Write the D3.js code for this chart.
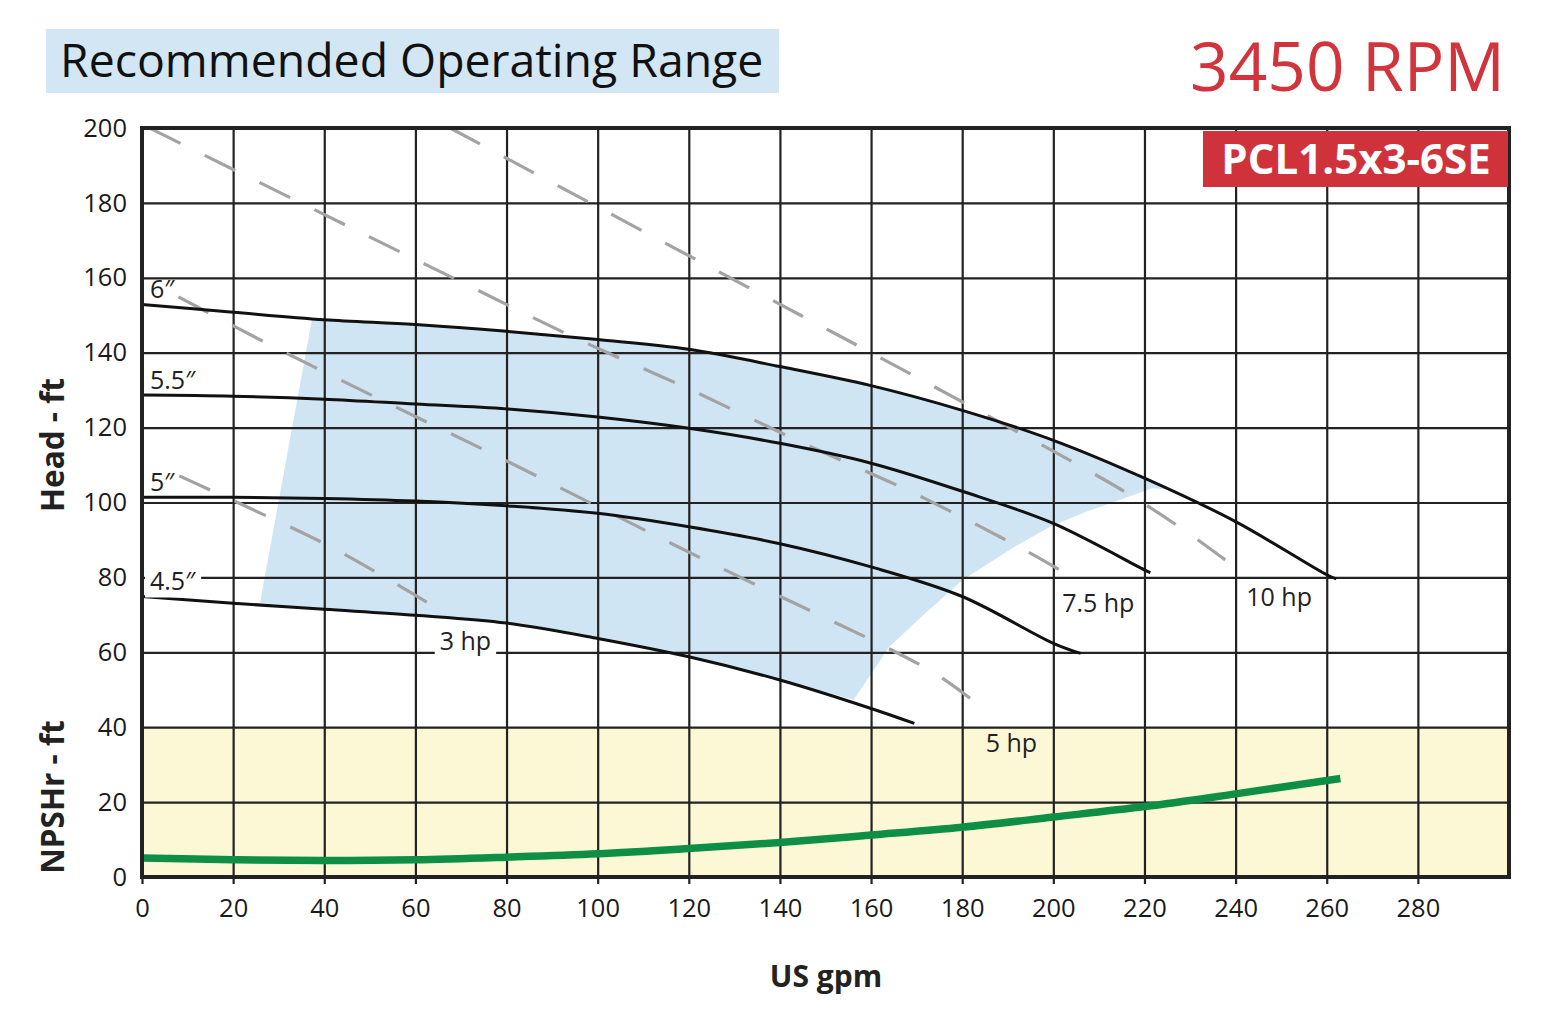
<!DOCTYPE html>
<html>
<head>
<meta charset="utf-8">
<script src="https://cdn.jsdelivr.net/npm/d3@7"></script>
<style>
  body { margin: 0; background: #fff; }
  text { font-family: "Open Sans", sans-serif; }
</style>
</head>
<body>
<script>
// pump curve chart, 3450 rpm

var gpmTicks = [0, 20, 40, 60, 80, 100, 120, 140, 160, 180, 200, 220, 240, 260, 280];
var headTicks = [0, 20, 40, 60, 80, 100, 120, 140, 160, 180, 200];

// head curves per impeller diameter, [gpm, ft]
var curve6 = [[0, 152.9], [20, 150.8], [40, 148.8], [60, 147.5], [80, 145.7], [100, 143.5], [120, 140.9],
  [140, 136.3], [160, 131.2], [180, 124.6], [200, 116.6], [220, 106.5], [240, 94.9], [260, 80.7], [262.1, 79.6]];
var curve55 = [[0, 128.7], [20, 128.4], [40, 127.6], [60, 126.3], [80, 125], [100, 122.8], [120, 119.8],
  [140, 115.8], [160, 110.5], [180, 103], [200, 94.4], [220, 82], [221.3, 81.3]];
var curve5 = [[0, 101.4], [20, 101.4], [40, 101.1], [60, 100.4], [80, 99.1], [100, 97.1], [120, 93.5],
  [140, 89.0], [160, 82.8], [180, 74.9], [200, 62.4], [206, 59.7]];
var curve45 = [[0, 74.9], [20, 73.1], [40, 71.5], [60, 69.9], [80, 67.8], [100, 63.7], [120, 58.8],
  [140, 52.6], [160, 45.0], [169.5, 41.0]];
var impellers = ["6\u2033", "5.5\u2033", "5\u2033", "4.5\u2033"];

// motor power limits
var hp3 = [[8.2, 107.1], [27.7, 96.2], [40.2, 88.9], [52.1, 80.9], [63.8, 72.4]];
var hp5 = [[8, 154.9], [26.8, 142.9], [51.3, 128.1], [76.2, 113.4], [100.7, 98.5], [125.4, 83.5],
  [150.1, 69.1], [162.6, 61.8], [174.6, 53.9], [185.6, 44.1]];
var hp75 = [[1.8, 199.9], [45.5, 173.6], [70.2, 158.8], [94.8, 144.1], [119.7, 130.5], [144.8, 116.0],
  [169.7, 102.3], [194.3, 86.9], [206.1, 78.6]];
var hp10 = [[67.6, 200], [100.5, 178.6], [134.8, 156.3], [159.2, 140.5], [183.3, 124.7], [207.4, 108.7],
  [218.6, 100.7], [230.7, 90.9], [241.9, 80.9]];
var hpNames = ["3 hp", "5 hp", "7.5 hp", "10 hp"];

// recommended operating range edges
var rangeLeft = [[25.9, 73.2], [37.3, 148.9]];
var rangeRight = [[225.5, 103.5], [221.7, 103.8], [207.2, 97.5], [199.3, 93.5], [191.5, 88.2],
  [180.1, 79.3], [171.9, 70.4], [164, 61.5], [156.2, 47.3]];

// NPSHr
var npshr = [[0, 5.1], [20, 4.6], [40, 4.4], [60, 4.6], [80, 5.3], [100, 6.2], [120, 7.6], [140, 9.2],
  [160, 11.2], [180, 13.3], [200, 16], [220, 18.8], [240, 22.2], [263, 26.3]];

var W = 1556, H = 1024;
var margin = { top: 128, right: 47, bottom: 147, left: 142 };
var width = W - margin.left - margin.right;
var height = H - margin.top - margin.bottom;

var svg = d3.select("body").append("svg")
  .attr("width", W)
  .attr("height", H);

// header
svg.append("rect")
  .attr("x", 46).attr("y", 29).attr("width", 733).attr("height", 64)
  .attr("fill", "#d2e6f4");
svg.append("text")
  .attr("x", 60).attr("y", 77)
  .attr("font-size", 46.4).attr("fill", "#111")
  .text("Recommended Operating Range");
svg.append("text")
  .attr("x", 1505).attr("y", 91)
  .attr("text-anchor", "end")
  .attr("font-size", 67.5).attr("fill", "#d1343c")
  .text("3450 RPM");

var x = d3.scaleLinear().domain([0, 300]).range([0, width]);
var y = d3.scaleLinear().domain([0, 200]).range([height, 0]);

var g = svg.append("g")
  .attr("transform", "translate(" + margin.left + "," + margin.top + ")");

// npsh band
g.append("rect")
  .attr("x", 0).attr("y", y(40))
  .attr("width", width).attr("height", y(0) - y(40))
  .attr("fill", "#fcf8d6");

// blue operating range
var rangePts = [].concat(
  rangeLeft,
  curve6.filter(function (d) { return d[0] > rangeLeft[1][0] && d[0] < rangeRight[0][0]; }),
  rangeRight,
  curve45.filter(function (d) { return d[0] > rangeLeft[0][0] && d[0] < rangeRight[rangeRight.length - 1][0]; }).reverse()
);
var lineLin = d3.line()
  .x(function (d) { return x(d[0]); })
  .y(function (d) { return y(d[1]); });
g.append("path")
  .attr("d", lineLin(rangePts) + "Z")
  .attr("fill", "#d0e5f3");

// grid
var gv = g.append("g")
  .call(d3.axisBottom(x).tickValues(gpmTicks.slice(1)).tickSize(height).tickFormat(""));
gv.select(".domain").remove();
gv.selectAll("line").attr("stroke", "#222").attr("stroke-width", 2.2);

var gh = g.append("g")
  .call(d3.axisRight(y).tickValues(headTicks.slice(1, -1)).tickSize(width).tickFormat(""));
gh.select(".domain").remove();
gh.selectAll("line").attr("stroke", "#222").attr("stroke-width", 2.2);

// axes labels
var xa = g.append("g")
  .attr("transform", "translate(0," + height + ")")
  .call(d3.axisBottom(x).tickValues(gpmTicks).tickSize(7).tickPadding(15));
xa.select(".domain").remove();
xa.selectAll("line").attr("stroke", "#222").attr("stroke-width", 2.2);
xa.selectAll("text")
  .attr("font-family", "Open Sans").attr("font-size", 25.5).attr("font-weight", 500).attr("fill", "#1a1a1a");

var ya = g.append("g")
  .call(d3.axisLeft(y).tickValues(headTicks).tickSize(0).tickPadding(15));
ya.select(".domain").remove();
ya.selectAll("text")
  .attr("font-family", "Open Sans").attr("font-size", 25.5).attr("font-weight", 500).attr("fill", "#1a1a1a");

// dashed hp lines
var smooth = d3.line()
  .x(function (d) { return x(d[0]); })
  .y(function (d) { return y(d[1]); })
  .curve(d3.curveCatmullRom.alpha(0.5));

var hpLines = [hp3, hp5, hp75, hp10];
g.selectAll(".hp")
  .data(hpLines)
  .enter()
  .append("path")
  .attr("class", "hp")
  .attr("d", smooth)
  .attr("fill", "none")
  .attr("stroke", "#a3a3a3")
  .attr("stroke-width", 3.2)
  .attr("stroke-dasharray", "34,27");

// impeller curves
var curves = [curve6, curve55, curve5, curve45];
g.selectAll(".imp")
  .data(curves)
  .enter()
  .append("path")
  .attr("class", "imp")
  .attr("d", smooth)
  .attr("fill", "none")
  .attr("stroke", "#111")
  .attr("stroke-width", 3);

// npshr
g.append("path")
  .attr("d", smooth(npshr))
  .attr("fill", "none")
  .attr("stroke", "#0f8f45")
  .attr("stroke-width", 7.5);

// labels with white backing where they sit on a grid line
function label(txt, px, py, backed) {
  var t = g.append("text")
    .attr("x", px).attr("y", py)
    .attr("font-size", 25).attr("fill", "#222")
    .text(txt);
  if (backed) {
    var b = t.node().getBBox();
    g.insert("rect", function () { return t.node(); })
      .attr("x", b.x - 5).attr("y", b.y + 2)
      .attr("width", b.width + 10).attr("height", b.height - 2)
      .attr("fill", "#fff");
  }
}

curves.forEach(function (c, i) {
  label(impellers[i], 8, y(c[0][1]) - 6, i === 3);
});

var hpOffsets = [[7, 44], [-2, 40], [-19, 29], [2, 32]];
hpLines.forEach(function (c, i) {
  var end = c[c.length - 1];
  label(hpNames[i], x(end[0]) + hpOffsets[i][0], y(end[1]) + hpOffsets[i][1], i === 0);
});

// frame
g.append("rect")
  .attr("width", width).attr("height", height)
  .attr("fill", "none")
  .attr("stroke", "#222")
  .attr("stroke-width", 4);

// model badge
svg.append("rect")
  .attr("x", 1203).attr("y", 131).attr("width", 305).attr("height", 56)
  .attr("fill", "#d0323b");
svg.append("text")
  .attr("x", 1356).attr("y", 174)
  .attr("text-anchor", "middle")
  .attr("font-size", 42).attr("font-weight", "bold").attr("fill", "#fff")
  .text("PCL1.5x3-6SE");

// axis titles
svg.append("text")
  .attr("transform", "translate(64,445) rotate(-90)")
  .attr("text-anchor", "middle")
  .attr("font-size", 31.5).attr("font-weight", "bold").attr("fill", "#222")
  .text("Head - ft");
svg.append("text")
  .attr("transform", "translate(64,797) rotate(-90)")
  .attr("text-anchor", "middle")
  .attr("font-size", 31.5).attr("font-weight", "bold").attr("fill", "#222")
  .text("NPSHr - ft");
svg.append("text")
  .attr("x", 826).attr("y", 987)
  .attr("text-anchor", "middle")
  .attr("font-size", 30).attr("font-weight", "bold").attr("fill", "#222")
  .text("US gpm");
</script>
</body>
</html>
